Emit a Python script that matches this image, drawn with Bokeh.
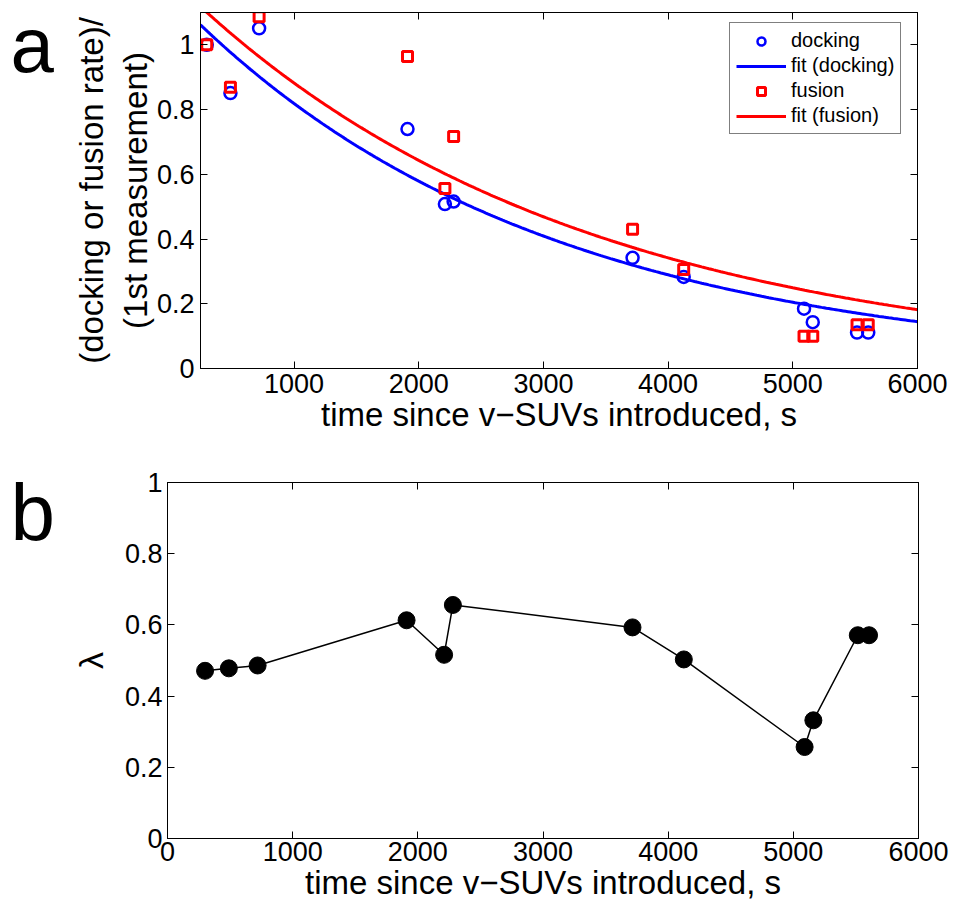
import numpy as np
from bokeh.plotting import figure
from bokeh.layouts import column, row
from bokeh.models import (Range1d, LinearAxis, Legend, LegendItem,
                          FixedTicker, NumeralTickFormatter)
from bokeh.core.properties import value
from bokeh.embed import file_html
from bokeh.resources import INLINE

# ---------------- data ----------------
times = [300, 490, 720, 1910, 2210, 2280, 3715, 4125, 5090, 5160, 5515, 5605]
docking = [1.0, 0.851, 1.051, 0.740, 0.508, 0.516, 0.342, 0.283, 0.185, 0.143, 0.111, 0.111]
fusion = [1.0, 0.869, 1.087, 0.964, 0.556, 0.717, 0.430, 0.306, 0.100, 0.100, 0.135, 0.135]
lam = [0.471, 0.478, 0.486, 0.613, 0.516, 0.656, 0.593, 0.503, 0.257, 0.332, 0.571, 0.571]

# exponential fit parameters: A * exp(-t / tau)
dock_fit_A, dock_fit_tau = 1.158, 2885.0
fus_fit_A, fus_fit_tau = 1.21, 3165.0

xticks_a = [1000, 2000, 3000, 4000, 5000, 6000]
xticks_b = [0, 1000, 2000, 3000, 4000, 5000, 6000]
yticks_a = [0, 0.2, 0.4, 0.6, 0.8, 1.0]
yticks_b = [0, 0.2, 0.4, 0.6, 0.8, 1.0]

legend_labels = ["docking", "fit (docking)", "fusion", "fit (fusion)"]
panel_letters = ["a", "b"]
xlabel = "time since v\u2212SUVs introduced, s"
ylabel_a = "(docking or fusion rate)/\n(1st measurement)"
ylabel_b = "\u03bb"

BLUE = "#0000ff"
RED = "#ff0000"
FONT = "Liberation Sans"
TICK_FS = "27px"
LABEL_FS = "33px"
LETTER_W = 60


def style_axes(p, xt, yt, xlab, ylab, ylab_fs):
    p.xgrid.grid_line_color = None
    p.ygrid.grid_line_color = None
    p.outline_line_color = "black"
    p.outline_line_width = 1
    p.background_fill_color = "white"
    p.border_fill_color = "white"
    xa, ya = p.below[0], p.left[0]
    xa.axis_label = xlab
    ya.axis_label = ylab
    for ax in (xa, ya):
        ax.major_tick_in = 7
        ax.major_tick_out = 0
        ax.minor_tick_line_color = None
        ax.axis_line_color = "black"
        ax.major_tick_line_color = "black"
        ax.major_label_text_font = FONT
        ax.major_label_text_font_size = TICK_FS
        ax.major_label_text_color = "black"
        ax.axis_label_text_font = FONT
        ax.axis_label_text_font_size = LABEL_FS
        ax.axis_label_text_font_style = "normal"
        ax.axis_label_text_color = "black"
    ya.axis_label_text_font_size = ylab_fs
    xa.ticker = FixedTicker(ticks=xt)
    ya.ticker = FixedTicker(ticks=yt)
    ya.formatter = NumeralTickFormatter(format="0.[0]")
    # mirrored ticks on the right and top (no labels)
    for loc, tk in (("right", yt), ("above", xt)):
        ax = LinearAxis(ticker=FixedTicker(ticks=tk), major_tick_in=7, major_tick_out=0,
                        minor_tick_line_color=None, axis_line_color="black",
                        major_label_text_font_size="0px", major_label_standoff=0,
                        major_label_text_color=None)
        p.add_layout(ax, loc)
    return xa, ya


def letter_fig(height, letter, lx, ly, fs):
    # pixel-like coordinates: y measured downward from the top of this strip
    f = figure(width=LETTER_W, height=height, x_range=Range1d(0, LETTER_W),
               y_range=Range1d(height, 0),
               output_backend="svg", toolbar_location=None,
               x_axis_location=None, y_axis_location=None,
               min_border_left=0, min_border_right=0,
               min_border_top=0, min_border_bottom=0)
    f.xgrid.grid_line_color = None
    f.ygrid.grid_line_color = None
    f.outline_line_color = None
    f.background_fill_color = "white"
    f.border_fill_color = "white"
    f.text(x=[lx], y=[ly], text=[letter], text_font=value(FONT), text_font_size=fs,
           text_baseline="alphabetic", text_align="left", text_color="black")
    return column(f)


# ---------------- panel a ----------------
pa = figure(width=953 - LETTER_W, height=453, x_range=Range1d(250, 6000), y_range=Range1d(0, 1.1),
            output_backend="svg", toolbar_location=None,
            min_border_left=200 - LETTER_W, min_border_right=36, min_border_top=12,
            min_border_bottom=85)
xa, ya = style_axes(pa, xticks_a, yticks_a, xlabel, ylabel_a, LABEL_FS)
xa.axis_label_standoff = 0
ya.axis_label_standoff = 0
xa.major_label_standoff = 5
ya.major_label_standoff = 6

t_fit = np.linspace(250, 6000, 300)
r_dfit = pa.line(t_fit, dock_fit_A * np.exp(-t_fit / dock_fit_tau), line_color=BLUE, line_width=3)
r_ffit = pa.line(t_fit, fus_fit_A * np.exp(-t_fit / fus_fit_tau), line_color=RED, line_width=3)
r_dock = pa.scatter(times, docking, marker="circle", size=12, line_color=BLUE, line_width=2.5,
                    fill_color=None)
r_fus = pa.scatter(times, fusion, marker="square", size=10, line_color=RED, line_width=3,
                   fill_color=None)

legend = Legend(items=[LegendItem(label=legend_labels[0], renderers=[r_dock]),
                       LegendItem(label=legend_labels[1], renderers=[r_dfit]),
                       LegendItem(label=legend_labels[2], renderers=[r_fus]),
                       LegendItem(label=legend_labels[3], renderers=[r_ffit])],
                location=(529, 234), margin=0, padding=6, spacing=2,
                glyph_width=50, glyph_height=20, label_height=20, label_standoff=5,
                label_text_font=FONT, label_text_font_size="20px", label_text_color="black",
                border_line_color="black", border_line_width=1,
                background_fill_color="white", background_fill_alpha=1)
pa.add_layout(legend)

la = letter_fig(453, panel_letters[0], 10, 44, "78px")

# ---------------- panel b ----------------
pb = figure(width=953 - LETTER_W, height=454, x_range=Range1d(0, 6000), y_range=Range1d(0, 1),
            output_backend="svg", toolbar_location=None,
            min_border_left=167 - LETTER_W, min_border_right=35, min_border_top=29,
            min_border_bottom=69)
xb, yb = style_axes(pb, xticks_b, yticks_b, xlabel, ylabel_b, "34px")
xb.axis_label_standoff = 0
yb.axis_label_standoff = 12
xb.major_label_standoff = 3
yb.major_label_standoff = 5

pb.line(times, lam, line_color="black", line_width=1.5)
pb.scatter(times, lam, marker="circle", size=17, fill_color="black", line_color="black")

lb = letter_fig(454, panel_letters[1], 10, 59, "80px")

layout = column(row(la, pa), row(lb, pb), spacing=0)
open("out.html", "w").write(file_html(layout, INLINE))
